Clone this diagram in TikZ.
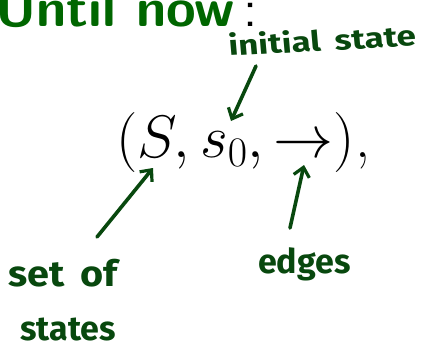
\RequirePackage{fix-cm}
\documentclass[tikz,border=0pt]{standalone}
\usepackage{fontspec}
\usetikzlibrary{arrows.meta}
\newfontfamily\handfont{Fira Sans}
\definecolor{titlegreen}{RGB}{0,102,0}
\definecolor{inkgreen}{RGB}{8,72,14}
\begin{document}
\begin{tikzpicture}[x=1pt,y=-1pt,
  hand/.style={inner sep=0pt, text=inkgreen, font=\handfont\bfseries\fontsize{34}{36}\selectfont},
  inkarrow/.style={draw=inkgreen, line width=3.6pt, line cap=round, line join=round,
    -{Straight Barb[length=9pt,width=16pt,line width=3.2pt]}}]
\useasboundingbox (0,0) rectangle (423,348);
\begin{scope}
\clip (0,0) rectangle (423,348);
\node[anchor=base west, inner sep=0pt, font=\sffamily\bfseries\fontsize{54}{58}\selectfont] (title) at (-5,26)
  {\textcolor{titlegreen}{Until now}\mdseries\,:};
\end{scope}
\node[anchor=base west, inner sep=0pt, font=\fontsize{60}{64}\selectfont] (tuple) at (116,157)
  {$(S, s_0, \to)$,};
\node[hand, font=\handfont\bfseries\fontsize{28}{30}\selectfont, anchor=base west, xscale=1.25, rotate=4, transform shape] (init) at (229,56) {initial\hspace{0.4em}state};
\node[hand, font=\handfont\bfseries\fontsize{36}{38}\selectfont, anchor=base west, xscale=1.1, transform shape] (setof) at (8,286) {set\hspace{0.4em}of};
\node[hand, anchor=base west, transform shape] (states) at (20,340) {states};
\node[hand, anchor=base west, transform shape] (edges) at (258,273) {edges};
\coordinate (initTail) at (256,66);
\coordinate (initTip) at (231,121);
\coordinate (setTail) at (97,237);
\coordinate (setTip) at (153,168);
\coordinate (edgeTail) at (290,228);
\coordinate (edgeTip) at (304,165);
\draw[inkarrow] (initTail) -- (initTip);
\draw[inkarrow] (setTail) -- (setTip);
\draw[inkarrow] (edgeTail) -- (edgeTip);
\end{tikzpicture}
\end{document}
